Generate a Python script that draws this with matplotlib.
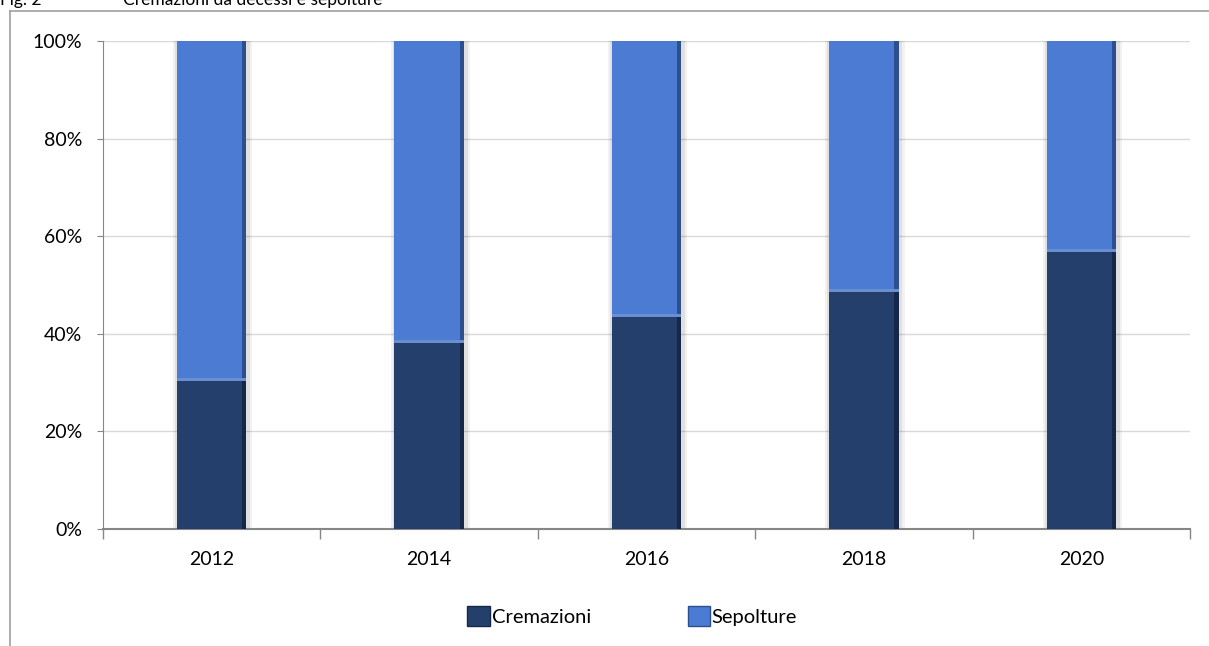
import matplotlib.pyplot as plt
from matplotlib.lines import Line2D
from matplotlib.patches import Patch
from matplotlib.ticker import PercentFormatter, FixedLocator, NullFormatter

years = ["2012", "2014", "2016", "2018", "2020"]
cremazioni = [30.3, 38.1, 43.4, 48.6, 56.8]
sepolture = [100 - v for v in cremazioni]

dark = "#253f6c"
light = "#4b7bd3"

plt.rcParams["font.family"] = ["Lato", "DejaVu Sans"]

fig = plt.figure(figsize=(12.09, 6.46), dpi=100)
ax = fig.add_axes([103 / 1209, 1 - 529 / 646, 1087 / 1209, 488 / 646])

x = list(range(len(years)))
w = 0.32

# soft glow around each bar
for extra, a in [(0.045, 0.05), (0.025, 0.07)]:
    ax.bar([i + 0.005 for i in x], [100] * len(x), width=w + extra,
           color="#000000", alpha=a, zorder=2)
ax.bar(x, cremazioni, width=w, color=dark, zorder=3)
ax.bar(x, sepolture, width=w, bottom=cremazioni, color=light, zorder=3)
# darker right edge for a bevelled look
ax.bar([i + w / 2 - 0.01 for i in x], cremazioni, width=0.02,
       color="#16284a", zorder=4)
ax.bar([i + w / 2 - 0.01 for i in x], sepolture, width=0.02,
       bottom=cremazioni, color="#2b4f8f", zorder=4)
ax.bar(x, [0.6] * len(x), width=w, bottom=cremazioni, color="#6a8fd0",
       zorder=4)

ax.set_xlim(-0.5, len(years) - 0.5)
ax.set_ylim(0, 100)
ax.yaxis.set_major_formatter(PercentFormatter(decimals=0))
ax.set_yticks(range(0, 101, 20))
ax.grid(axis="y", color="#d9d9d9", linewidth=1, zorder=0)
ax.set_axisbelow(True)

ax.set_xticks(x)
ax.set_xticklabels(years)
ax.xaxis.set_minor_locator(FixedLocator([i - 0.5 for i in range(len(years) + 1)]))
ax.xaxis.set_minor_formatter(NullFormatter())
ax.tick_params(axis="x", which="major", length=0, pad=16, labelsize=14)
ax.tick_params(axis="x", which="minor", length=7, color="#868686", width=1)
ax.tick_params(axis="y", length=4, color="#868686", labelsize=14, pad=11)

for side in ["top", "right"]:
    ax.spines[side].set_visible(False)
ax.spines["left"].set_color("#868686")
ax.spines["bottom"].set_color("#868686")
ax.spines["bottom"].set_linewidth(1.5)

handles = [Patch(facecolor=dark, edgecolor="#16284a"),
           Patch(facecolor=light, edgecolor="#2b4f8f")]
fig.legend(handles, ["Cremazioni", "Sepolture"], loc="center",
           bbox_to_anchor=(0.523, 1 - 616 / 646), ncol=2, frameon=False,
           fontsize=14.5, handlelength=1.1, handleheight=1.1,
           handletextpad=0.1, columnspacing=4.8)

# outer frame and caption along the top edge
fig.add_artist(Line2D([10 / 1209, 1], [1 - 11 / 646] * 2,
                      transform=fig.transFigure, color="#a0a0a0", lw=1.2))
fig.add_artist(Line2D([10 / 1209] * 2, [0, 1 - 11 / 646],
                      transform=fig.transFigure, color="#a0a0a0", lw=1.2))
fig.text(0 / 1209, 1 - 5 / 646, "Fig. 2", fontsize=12.5, va="baseline")
fig.text(123 / 1209, 1 - 5 / 646, "Cremazioni da decessi e sepolture",
         fontsize=12.5, va="baseline")

fig.savefig("out.png", dpi=100)
